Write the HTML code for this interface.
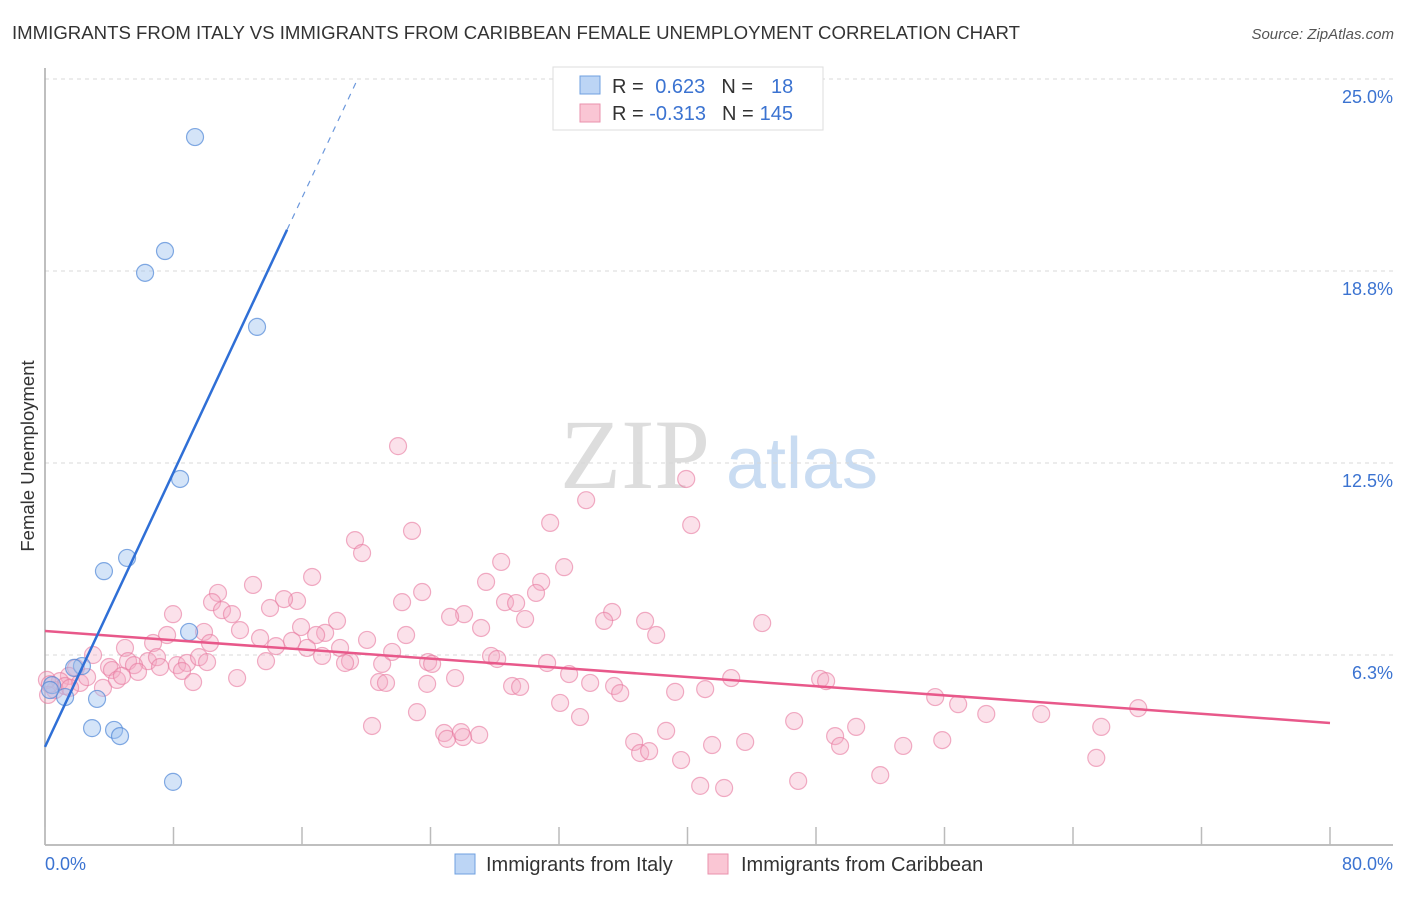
<!DOCTYPE html>
<html><head><meta charset="utf-8">
<style>
body{margin:0;background:#fff;font-family:"Liberation Sans",sans-serif;}
svg text{font-family:"Liberation Sans",sans-serif;}
</style></head>
<body>
<svg id="chart" width="1406" height="892" xmlns="http://www.w3.org/2000/svg">
<text x="12" y="39" font-size="18" fill="#333" textLength="1008" lengthAdjust="spacingAndGlyphs">IMMIGRANTS FROM ITALY VS IMMIGRANTS FROM CARIBBEAN FEMALE UNEMPLOYMENT CORRELATION CHART</text>
<text x="1394" y="39" font-size="15" fill="#555" font-style="italic" text-anchor="end">Source: ZipAtlas.com</text>
<g>
<text x="635" y="488" font-size="100" fill="#ddd" text-anchor="middle" style="font-family:'Liberation Serif',serif">ZIP</text>
<text x="802" y="488" font-size="72" fill="#c9dcf2" text-anchor="middle">atlas</text>
</g>
<g id="grid"></g>
<g id="axes"></g>
<g id="marks"></g>
<text transform="translate(34,456) rotate(-90)" font-size="18.5" fill="#333" text-anchor="middle">Female Unemployment</text>
<g>
<rect x="553" y="67" width="270" height="63" fill="#fff" stroke="#ddd"/>
<rect x="580" y="76" width="20" height="18" fill="#bcd5f5" stroke="#6fa0e0"/>
<rect x="580" y="104" width="20" height="18" fill="#fac6d4" stroke="#ea92ad"/>
<text x="612" y="93" font-size="20" fill="#333">R = <tspan fill="#3b73d1" dx="6">0.623</tspan><tspan dx="16" fill="#333">N =</tspan><tspan dx="18" fill="#3b73d1">18</tspan></text>
<text x="612" y="120" font-size="20" fill="#333">R = <tspan fill="#3b73d1">-0.313</tspan><tspan dx="16" fill="#333">N =</tspan><tspan dx="6" fill="#3b73d1">145</tspan></text>
</g>
<g>
<rect x="455" y="854" width="20" height="20" fill="#bcd5f5" stroke="#6fa0e0"/>
<text x="486" y="871" font-size="20" fill="#333">Immigrants from Italy</text>
<rect x="708" y="854" width="20" height="20" fill="#fac6d4" stroke="#ea92ad"/>
<text x="741" y="871" font-size="20" fill="#333">Immigrants from Caribbean</text>
</g>
</svg>
<script>
const yTicks=[25,18.75,12.5,6.25];
const yTickLabels=["25.0%","18.8%","12.5%","6.3%"];
const xTicks=[0,8,16,24,32,40,48,56,64,72,80];
const blueX=[9.34,7.47,6.23,13.20,8.41,5.11,3.67,8.97,2.30,1.81,0.44,1.25,3.24,2.93,4.30,4.67,7.97,0.31];
const blueY=[23.11,19.40,18.69,16.93,11.98,9.41,8.98,7.00,5.89,5.83,5.27,4.88,4.82,3.87,3.81,3.61,2.12,5.11];
const pinkX=[21.98,39.92,33.69,31.45,22.85,40.23,19.30,19.74,28.40,32.32,16.63,12.95,30.89,27.46,10.77,23.48,22.23,15.69,14.88,10.40,28.64,29.33,30.57,35.31,7.97,11.02,11.64,14.01,18.18,26.09,25.22,34.81,29.89,37.36,44.65,7.60,9.90,12.14,15.94,17.44,16.88,22.48,27.15,38.05,6.73,4.98,10.27,13.39,15.38,18.37,20.05,5.17,6.41,6.97,2.99,5.54,3.99,4.17,5.79,8.22,8.84,9.59,10.09,8.53,7.16,13.76,14.38,16.31,17.25,18.99,18.68,20.99,23.85,24.10,27.77,28.15,31.26,21.61,1.93,1.49,0.93,2.18,2.62,3.61,4.48,4.79,9.22,11.96,20.80,21.23,23.79,25.53,29.08,29.58,32.63,33.94,35.43,35.81,39.23,41.10,42.72,48.26,48.63,0.62,1.25,1.56,0.12,0.19,32.07,33.31,23.16,20.36,24.85,25.03,26.03,27.03,38.67,36.68,37.05,37.61,39.60,41.53,43.59,46.64,49.19,49.50,50.50,53.43,55.86,55.42,56.85,58.60,62.02,65.76,68.06,65.45,40.79,42.28,46.89,52.00,25.90,0.3];
const pinkY=[13.05,11.98,11.29,10.55,10.29,10.48,9.99,9.57,9.28,9.11,8.79,8.53,8.63,8.63,8.27,8.30,7.97,8.01,8.07,7.97,7.97,7.94,8.27,7.65,7.58,7.71,7.58,7.78,7.36,7.58,7.49,7.36,7.42,7.36,7.29,6.90,7.00,7.06,7.16,6.97,6.90,6.90,7.13,6.90,6.64,6.48,6.64,6.80,6.71,6.48,6.74,6.05,6.05,6.18,6.25,5.92,5.86,5.76,5.70,5.92,5.99,6.18,6.02,5.73,5.86,6.05,6.54,6.48,6.22,6.05,5.99,5.96,6.02,5.96,6.22,6.12,5.99,6.35,5.83,5.57,5.40,5.34,5.53,5.18,5.44,5.57,5.37,5.50,5.37,5.34,5.31,5.50,5.24,5.21,5.63,5.34,5.24,5.01,5.05,5.14,5.50,5.47,5.40,5.11,5.24,5.18,5.44,4.95,4.69,4.23,4.39,3.94,3.71,3.52,3.58,3.65,3.78,3.42,3.06,3.12,2.83,3.32,3.42,4.10,3.61,3.29,3.91,3.29,3.48,4.88,4.65,4.33,4.33,3.91,4.52,2.90,1.99,1.92,2.15,2.34,3.74,5.3];
const blueTrend=[3.26,1.117];   // intercept, slope
const pinkTrend=[7.03,-0.0374];

const NS="http://www.w3.org/2000/svg";
const X0=45,X1=1330,Y0=845,YTOP=79;
const sx=v=>X0+(v-0)/80*(X1-X0);
const sy=v=>847-v/25*(847-YTOP);
function mk(tag,attrs,parent){const e=document.createElementNS(NS,tag);for(const k in attrs)e.setAttribute(k,attrs[k]);parent.appendChild(e);return e;}
const grid=document.getElementById('grid'),axes=document.getElementById('axes'),marks=document.getElementById('marks');

yTicks.forEach((t,i)=>{
  const l=mk('line',{x1:X0,x2:1393,y1:sy(t),y2:sy(t),stroke:'#d8d8d8','stroke-dasharray':'4,4'},grid);
  
  
  const tx=mk('text',{x:1393,y:sy(t)+24,'font-size':18,fill:'#3b73d1','text-anchor':'end'},axes);
  tx.textContent=yTickLabels[i];
  
  
});
const ya=mk('line',{x1:X0,x2:X0,y1:68,y2:Y0,stroke:'#aaa','stroke-width':1.5},axes);


const xa=mk('line',{x1:X0,x2:1393,y1:Y0,y2:Y0,stroke:'#aaa','stroke-width':1.5},axes);


xTicks.forEach(t=>{
  const l=mk('line',{x1:sx(t),x2:sx(t),y1:827,y2:Y0,stroke:'#bbb','stroke-width':1.5},axes);
  
  
});
const xl0=mk('text',{x:45,y:870,'font-size':18,fill:'#3b73d1'},axes);xl0.textContent='0.0%';


const xl1=mk('text',{x:1393,y:870,'font-size':18,fill:'#3b73d1','text-anchor':'end'},axes);xl1.textContent='80.0%';



pinkX.forEach((v,i)=>{
  const c=mk('circle',{cx:sx(v),cy:sy(pinkY[i]),r:8.5,fill:'rgba(244,170,194,0.35)',stroke:'rgba(232,120,158,0.6)','stroke-width':1.2},marks);
  
  
});
blueX.forEach((v,i)=>{
  const c=mk('circle',{cx:sx(v),cy:sy(blueY[i]),r:8.5,fill:'rgba(160,196,240,0.45)',stroke:'rgba(80,135,215,0.7)','stroke-width':1.2},marks);
  
  
});
const pl=mk('line',{x1:sx(0),y1:sy(pinkTrend[0]),x2:sx(80),y2:sy(pinkTrend[0]+pinkTrend[1]*80),stroke:'#e8588a','stroke-width':2.5},marks);


const xEnd=15.07, xTop=(25-blueTrend[0])/blueTrend[1];
const bl=mk('line',{x1:sx(0),y1:sy(blueTrend[0]),x2:sx(xEnd),y2:sy(blueTrend[0]+blueTrend[1]*xEnd),stroke:'#2f6fd6','stroke-width':2.5},marks);


const bd=mk('line',{x1:sx(xEnd),y1:sy(blueTrend[0]+blueTrend[1]*xEnd),x2:sx(xTop),y2:sy(25),stroke:'#6c98dc','stroke-width':1.2,'stroke-dasharray':'6,6'},marks);


</script>
</body></html>
